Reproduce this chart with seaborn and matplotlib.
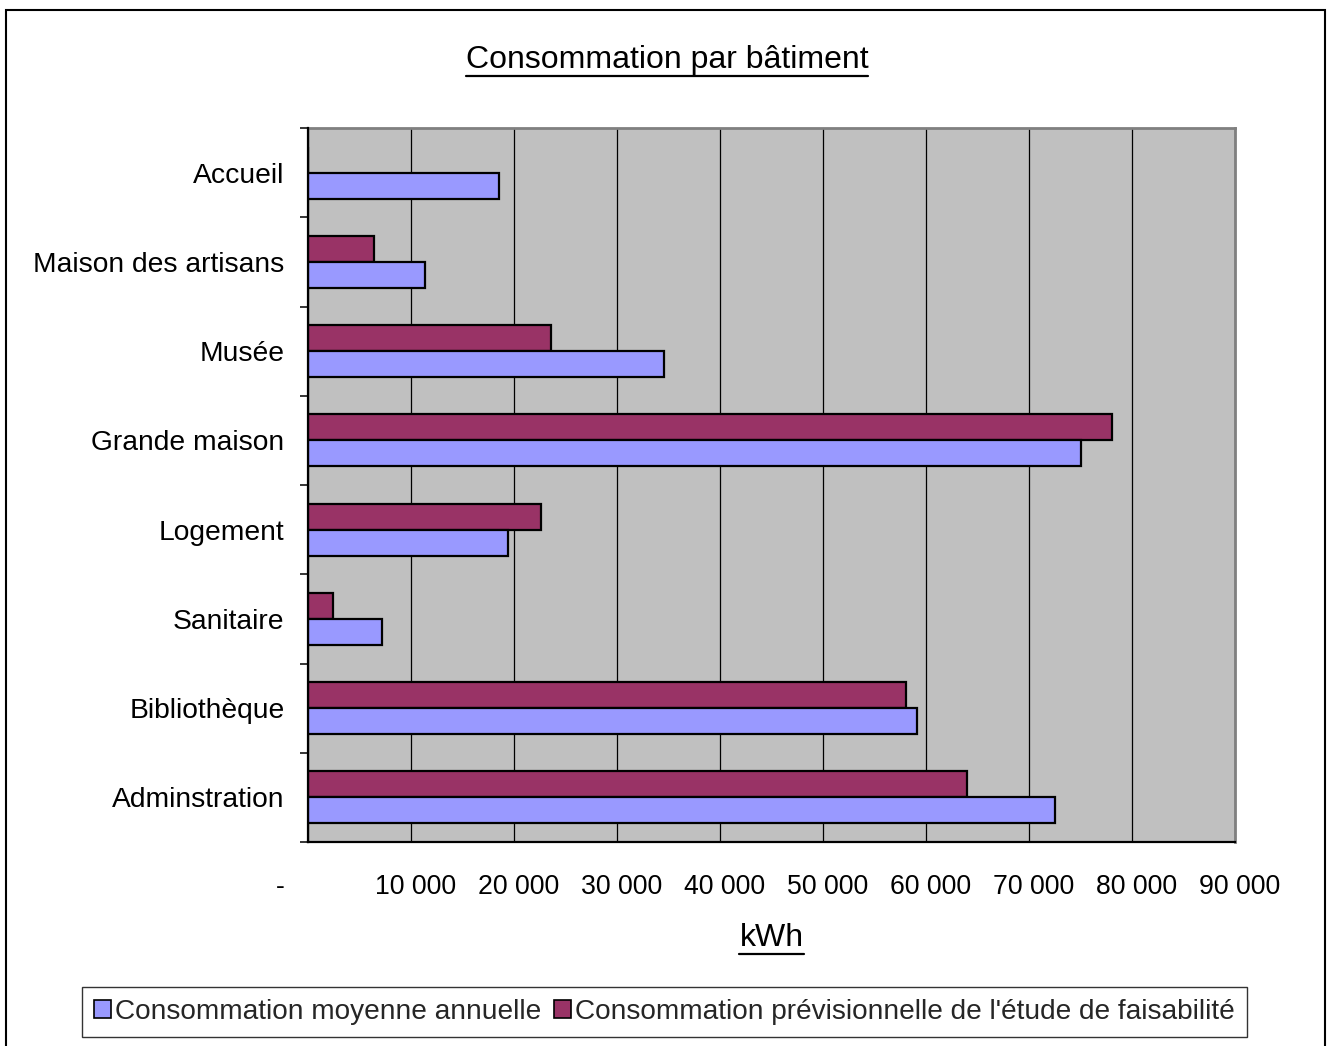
import matplotlib
matplotlib.use("Agg")
import matplotlib.pyplot as plt
import matplotlib.transforms as mtrans
from matplotlib.patches import Patch, Rectangle
from matplotlib.lines import Line2D
from matplotlib.ticker import FixedLocator
import seaborn as sns
import pandas as pd

categories = ["Accueil", "Maison des artisans", "Musée", "Grande maison",
              "Logement", "Sanitaire", "Bibliothèque", "Adminstration"]
moyenne = [18500, 11400, 34600, 75000, 19400, 7200, 59100, 72500]
previsionnelle = [0, 6400, 23600, 78100, 22600, 2400, 58100, 64000]
series_names = ["Consommation moyenne annuelle",
                "Consommation prévisionnelle de l'étude de faisabilité"]
x_ticks = [0, 10000, 20000, 30000, 40000, 50000, 60000, 70000, 80000, 90000]
x_tick_labels = ["-", "10 000", "20 000", "30 000", "40 000", "50 000",
                 "60 000", "70 000", "80 000", "90 000"]

df = pd.DataFrame({
    "Bâtiment": categories * 2,
    "kWh": moyenne + previsionnelle,
    "Série": [series_names[0]] * len(categories) + [series_names[1]] * len(categories),
})

sns.set_theme(style="white")
plt.rcParams["font.family"] = ["Liberation Sans", "DejaVu Sans"]
FS_TICK = 19.2
FS_CAT = 20.3
FS_TITLE = 23
FS_LEG = 20.2

W, H = 1332, 1046
fig = plt.figure(figsize=(W / 100, H / 100), dpi=100)
ax = fig.add_axes([308 / W, 1 - 842 / H, (1235 - 308) / W, (842 - 128) / H])

colors = {series_names[0]: "#9999FF", series_names[1]: "#993366"}
sns.barplot(data=df, y="Bâtiment", x="kWh", hue="Série",
            hue_order=[series_names[1], series_names[0]],
            order=categories, palette=colors, saturation=1, orient="h", width=0.58,
            edgecolor="black", linewidth=1.6, legend=False, ax=ax, zorder=3)

ax.set_facecolor("#C0C0C0")
ax.set_xlim(0, 90000)
ax.set_ylim(len(categories) - 0.5, -0.5)
ax.xaxis.set_major_locator(FixedLocator(x_ticks))
ax.set_xticklabels(x_tick_labels, fontsize=FS_TICK, color="black")
ax.grid(axis="x", color="black", linewidth=0.9, zorder=1)
ax.set_axisbelow(True)
ax.tick_params(axis="x", direction="out", length=7.2, width=1, color="black", pad=16)
ax.set_yticks(range(len(categories)))
ax.set_yticklabels(categories, fontsize=FS_CAT, color="black")
ax.tick_params(axis="y", which="major", length=0, pad=22 * 0.72 + 1)
ax.yaxis.set_minor_locator(FixedLocator([i - 0.5 for i in range(len(categories) + 1)]))
ax.tick_params(axis="y", which="minor", direction="out", length=5.8, width=1.1,
               color="black", left=True)
ax.set_xlabel("")
ax.set_ylabel("")

for side in ["top", "right"]:
    ax.spines[side].set_color("#808080")
    ax.spines[side].set_linewidth(2)
for side in ["left", "bottom"]:
    ax.spines[side].set_color("black")
    ax.spines[side].set_linewidth(1.6)
    ax.spines[side].set_zorder(4)

# shift tick labels (Excel accounting format)
for lab, t in zip(ax.get_xticklabels(), x_ticks):
    dx = -28 if t == 0 else 5
    lab.set_transform(lab.get_transform() + mtrans.ScaledTranslation(dx / 100, 0, fig.dpi_scale_trans))

# title and axis label
title = fig.text(667 / W, 1 - 60 / H, "Consommation par bâtiment", ha="center", va="center",
                 fontsize=FS_TITLE, color="black")
xlab = fig.text(771.5 / W, 1 - 938 / H, "kWh", ha="center", va="center", fontsize=FS_TITLE,
                color="black")

handles = [Patch(facecolor=colors[s], edgecolor="black", linewidth=1.2) for s in series_names]
leg = fig.legend(handles, series_names, loc="center", bbox_to_anchor=(664.5 / W, 1 - 1012 / H),
                 ncol=2, fontsize=FS_LEG, frameon=True, fancybox=False, handlelength=0.6,
                 handleheight=0.6, handletextpad=0.15, columnspacing=0.45,
                 borderpad=0.42, borderaxespad=0)
leg.get_frame().set_edgecolor("black")
leg.get_frame().set_linewidth(1)

# outer border
fig.patches.append(Rectangle((6 / W, -0.05), (1325 - 6) / W, 1 - 10 / H + 0.05,
                             transform=fig.transFigure, fill=False, edgecolor="black",
                             linewidth=1.5))

fig.canvas.draw()
r = fig.canvas.get_renderer()
for t in (title, xlab):
    bb = t.get_window_extent(r)
    y = bb.y0 - 1
    fig.add_artist(Line2D([bb.x0 / W, bb.x1 / W], [y / H, y / H], transform=fig.transFigure,
                          color="black", linewidth=1.6))

fig.savefig("out.png", dpi=100)
